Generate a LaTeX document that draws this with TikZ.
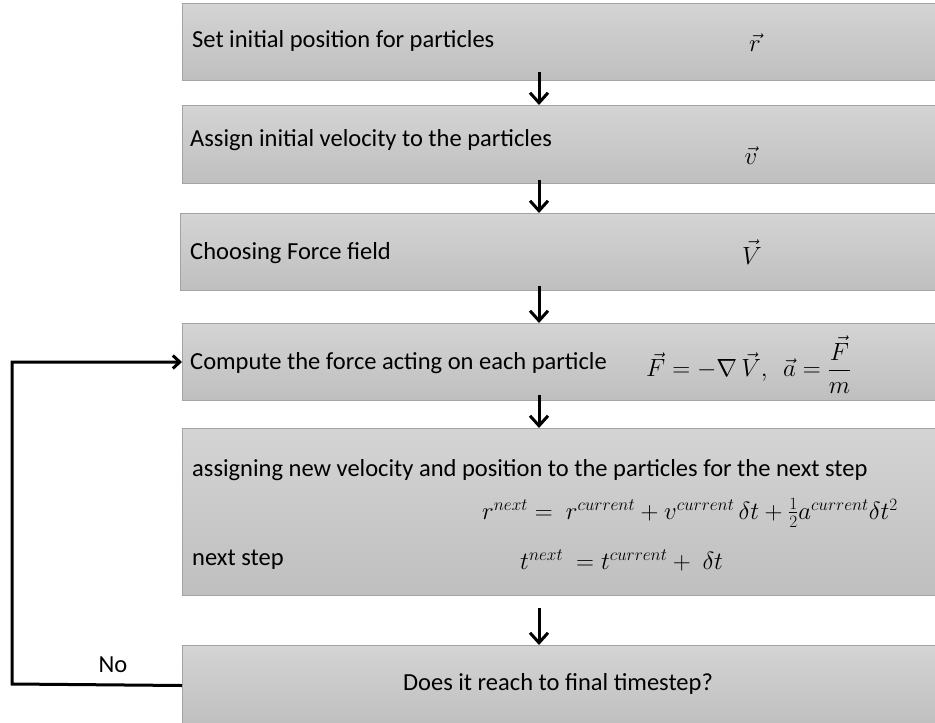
\documentclass[tikz,border=0pt]{standalone}
\usepackage{amsmath}
\usepackage{fontspec}
\setmainfont{Carlito}
\usetikzlibrary{arrows.meta,calc}

\begin{document}
\begin{tikzpicture}[x=1pt, y=-1pt, font=\fontsize{24.5}{29}\selectfont]
    % Define colours
    \definecolor{boxTop}{HTML}{D4D4D4}
    \definecolor{boxBottom}{HTML}{BFBFBF}
    \definecolor{boxBorder}{HTML}{A3A3A3}

    % Define styles
    \tikzset{
        box/.style={draw=boxBorder, line width=1pt, top color=boxTop, bottom color=boxBottom,
            anchor=north west, minimum width=758pt, inner sep=0pt},
        txt/.style={anchor=west, inner sep=0pt},
        eq/.style={inner sep=0pt, font=\fontsize{27}{31}\selectfont},
        flow/.style={line width=3pt, -{Straight Barb[length=10pt,width=18pt]}},
        back/.style={line width=3pt, -{Straight Barb[length=7pt,width=13pt]}}
    }

    % Fix page size
    \useasboundingbox (0,0) rectangle (935,723);

    % Draw boxes
    \node[box, minimum height=77pt]  (b1) at (182,3)   {};
    \node[box, minimum height=78pt]  (b2) at (182,105) {};
    \node[box, minimum height=77pt]  (b3) at (180,213) {};
    \node[box, minimum height=77pt]  (b4) at (182,323) {};
    \node[box, minimum height=167pt] (b5) at (182,428) {};
    \node[box, minimum height=80pt]  (b6) at (182,645) {};

    % Texts of the boxes
    \node[txt] (t1) at (192,41)  {Set initial position for particles};
    \node[eq]  (m1) at (755,43)  {$\vec{r}$};
    \node[txt] (t2) at (190,140) {Assign initial velocity to the particles};
    \node[eq]  (m2) at (751,156) {$\vec{v}$};
    \node[txt] (t3) at (190,253) {Choosing Force field};
    \node[eq]  (m3) at (752,252) {$\vec{V}$};
    \node[txt] (t4) at (190,363) {Compute the force acting on each particle};
    \node[eq, anchor=west, font=\fontsize{25}{29}\selectfont] (m4) at (646,365)
        {$\vec{F} = -\nabla\,\vec{V},\ \ \vec{a} = \dfrac{\vec{F}}{m}$};
    \node[txt] (t5) at (192,470) {assigning new velocity and position to the particles for the next step};
    \node[eq, anchor=west] (m5) at (482,513) {$r^{next} =\ r^{current} + v^{current}\,\delta t + \tfrac{1}{2}a^{current}\delta t^{2}$};
    \node[txt] (t6) at (192,560) {next step};
    \node[eq, anchor=west] (m6) at (520,560) {$t^{next}\ = t^{current} +\ \delta t$};
    \node      (t7) at (558,684) {Does it reach to final timestep?};
    \node      (no) at (113,665) {No};

    % Draw arrows
    \coordinate (ax) at (539,0);
    \foreach \a/\b/\s in {b1/b2/-9, b2/b3/-4, b3/b4/-5, b4/b5/-6, b5/b6/12}
        \draw[flow, shorten <=\s pt] (\a.south -| ax) -- (\b.north -| ax);

    % Loop back
    \coordinate (back) at (12,684);
    \draw[back] (b6.west) -- (back) |- (b4.west);

\end{tikzpicture}
\end{document}
